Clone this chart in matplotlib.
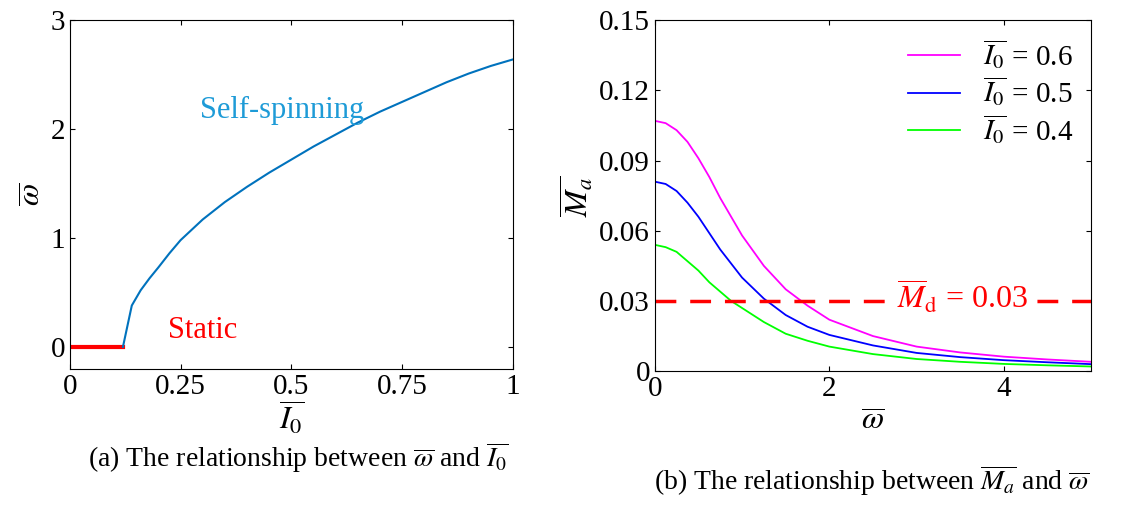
import matplotlib
matplotlib.use('Agg')
import matplotlib.pyplot as plt
import numpy as np

plt.rcParams['font.family'] = 'Liberation Serif'
plt.rcParams['mathtext.fontset'] = 'stix'
plt.rcParams['font.size'] = 21

# (a) omega vs I0
i0_static = [0, 0.12]
w_static = [0, 0]
i0_spin = [0.12, 0.14, 0.16, 0.18, 0.2, 0.225, 0.25, 0.3, 0.35, 0.4, 0.45, 0.5, 0.55, 0.6, 0.65,
           0.7, 0.75, 0.8, 0.85, 0.9, 0.95, 1.0]
w_spin = [0.0, 0.38, 0.52, 0.63, 0.73, 0.86, 0.98, 1.17, 1.33, 1.47, 1.60, 1.72, 1.84, 1.95, 2.06,
          2.16, 2.25, 2.34, 2.43, 2.51, 2.58, 2.64]

# (b) Ma vs omega
w_b = [0, 0.125, 0.25, 0.375, 0.5, 0.625, 0.75, 0.875, 1.0, 1.25, 1.5, 1.75, 2.0, 2.5, 3.0, 3.5, 4.0, 4.5, 5.0]
ma_06 = [0.107, 0.106, 0.103, 0.098, 0.091, 0.083, 0.074, 0.066, 0.058, 0.045, 0.035, 0.028, 0.022, 0.015, 0.0105, 0.008, 0.0062, 0.005, 0.004]
ma_05 = [0.081, 0.080, 0.077, 0.072, 0.066, 0.059, 0.052, 0.046, 0.040, 0.031, 0.024, 0.019, 0.0155, 0.011, 0.0078, 0.006, 0.0047, 0.0038, 0.003]
ma_04 = [0.054, 0.053, 0.051, 0.047, 0.043, 0.038, 0.034, 0.030, 0.027, 0.021, 0.016, 0.013, 0.0105, 0.0073, 0.0052, 0.004, 0.0031, 0.0025, 0.002]
md = 0.03

fig = plt.figure(figsize=(11.25, 5.05), dpi=100)
ax1 = fig.add_axes([0.062, 0.27, 0.394, 0.69])
ax2 = fig.add_axes([0.582, 0.265, 0.388, 0.695])

ax1.plot(i0_static, w_static, color='red', lw=3)
ax1.plot(i0_spin, w_spin, color='#0072BD', lw=1.5)
ax1.set_xlim(0, 1); ax1.set_ylim(-0.2, 3)
ax1.set_xticks([0, 0.25, 0.5, 0.75, 1]); ax1.set_xticklabels(['0', '0.25', '0.5', '0.75', '1'])
ax1.set_yticks([0, 1, 2, 3])
ax1.text(0.48, 2.1, 'Self-spinning', color='#1E9BD7', ha='center', fontsize=22)
ax1.text(0.3, 0.08, 'Static', color='red', ha='center', fontsize=22)
ax1.set_xlabel(r'$\overline{I_0}$', fontsize=23, labelpad=0)
ax1.set_ylabel(r'$\overline{\omega}$', fontsize=23, labelpad=2)
ax1.tick_params(direction='in', top=True, right=True)

ax2.plot(w_b, ma_06, color='#FF00FF', lw=1.3, label=r'$\overline{I_0}$ = 0.6')
ax2.plot(w_b, ma_05, color='#0000FF', lw=1.3, label=r'$\overline{I_0}$ = 0.5')
ax2.plot(w_b, ma_04, color='#00FF00', lw=1.3, label=r'$\overline{I_0}$ = 0.4')
ax2.axhline(md, color='red', ls='--', lw=2.5, dashes=(6, 4))
ax2.text(2.78, 0.0315, r'$\overline{M}_{\rm d}$ = 0.03', color='red', fontsize=23, va='center',
         bbox=dict(facecolor='white', edgecolor='none', pad=1))
ax2.set_xlim(0, 5); ax2.set_ylim(0, 0.15)
ax2.set_yticks([0, 0.03, 0.06, 0.09, 0.12, 0.15])
ax2.set_yticklabels(['0', '0.03', '0.06', '0.09', '0.12', '0.15'])
ax2.set_xlabel(r'$\overline{\omega}$', fontsize=23)
ax2.set_ylabel(r'$\overline{M_a}$', fontsize=23, labelpad=2)
ax2.tick_params(direction='in', top=True, right=True)
ax2.legend(loc='upper right', frameon=False, fontsize=21, handlelength=1.8, labelspacing=0.15,
           borderaxespad=0.2)

fig.text(0.265, 0.075, r'(a) The relationship between $\overline{\omega}$ and $\overline{I_0}$', ha='center', fontsize=20)
fig.text(0.775, 0.03, r'(b) The relationship between $\overline{M_a}$ and $\overline{\omega}$', ha='center', fontsize=20)

fig.savefig('out.png', dpi=100)
